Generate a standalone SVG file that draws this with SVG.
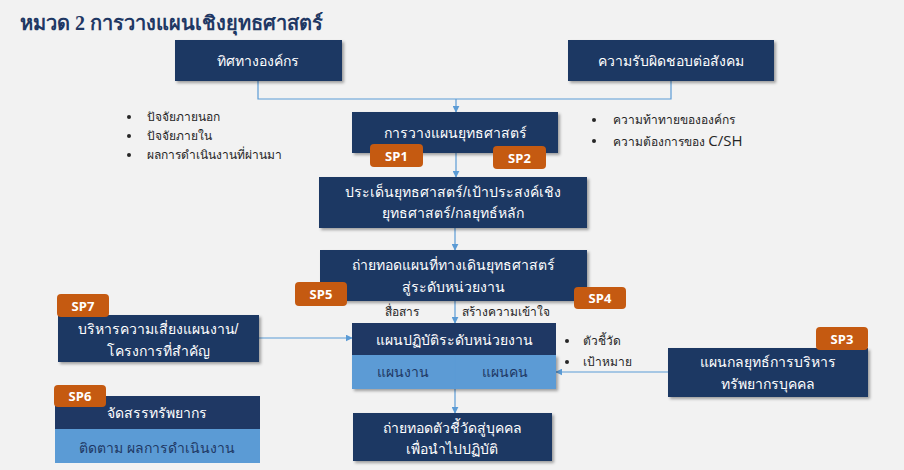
<svg xmlns="http://www.w3.org/2000/svg" width="904" height="470" viewBox="0 0 904 470">
<defs>
<filter id="sh" x="-10%" y="-10%" width="130%" height="140%">
<feDropShadow dx="2" dy="2" stdDeviation="1.5" flood-color="#000" flood-opacity="0.35"/>
</filter>
<marker id="ar" viewBox="0 0 10 10" refX="9" refY="5" markerWidth="7" markerHeight="7" orient="auto-start-reverse" markerUnits="userSpaceOnUse">
<path d="M0,0 L10,5 L0,10 z" fill="#5b9bd5"/>
</marker>
</defs>
<style>
.dk{fill:#1f3864}
.lt{fill:#5b9bd5}
.or{fill:#c55a11}
.wt{fill:#ffffff;font-family:"Liberation Sans","Noto Sans",sans-serif;font-size:14px;text-anchor:middle}
.bt{fill:#1f3864;font-family:"Liberation Sans","Noto Sans",sans-serif;font-size:14px;text-anchor:middle}
.sp{fill:#ffffff;font-family:"Open Sans","Liberation Sans",sans-serif;font-size:13px;font-weight:bold;text-anchor:middle}
.tx{fill:#262626;font-family:"Liberation Sans","Noto Sans",sans-serif;font-size:12px}
.ln{fill:none;stroke:#5b9bd5;stroke-width:1.2}
</style>
<rect width="904" height="470" fill="#f2f2f2"/>
<text x="20" y="30" fill="#1f3864" font-family="'Liberation Serif','Noto Serif',serif" font-size="20" font-weight="bold">หมวด 2 การวางแผนเชิงยุทธศาสตร์</text>

<g id="connectors">
<polyline class="ln" points="258,81 258,99 671,99 671,81"/>
<line class="ln" x1="456" y1="99" x2="456" y2="112" marker-end="url(#ar)"/>
<line class="ln" x1="456" y1="153" x2="456" y2="177" marker-end="url(#ar)"/>
<line class="ln" x1="455" y1="228" x2="455" y2="250" marker-end="url(#ar)"/>
<line class="ln" x1="455" y1="301" x2="455" y2="323" marker-end="url(#ar)"/>
<line class="ln" x1="455" y1="355" x2="455" y2="413" marker-end="url(#ar)"/>
<line class="ln" x1="259" y1="338" x2="352" y2="338" marker-end="url(#ar)"/>
<line class="ln" x1="668" y1="372" x2="556" y2="372" marker-end="url(#ar)"/>
</g>

<g id="n-direction">
<rect class="dk" x="175" y="40" width="167" height="41" filter="url(#sh)"/>
<text class="wt" x="258" y="66">ทิศทางองค์กร</text>
</g>
<g id="n-csr">
<rect class="dk" x="568" y="40" width="206" height="41" filter="url(#sh)"/>
<text class="wt" x="671" y="66">ความรับผิดชอบต่อสังคม</text>
</g>

<g id="n-left-bullets">
<circle cx="129" cy="117" r="2" fill="#262626"/>
<text class="tx" x="147" y="121">ปัจจัยภายนอก</text>
<circle cx="129" cy="136" r="2" fill="#262626"/>
<text class="tx" x="147" y="140">ปัจจัยภายใน</text>
<circle cx="129" cy="155" r="2" fill="#262626"/>
<text class="tx" x="147" y="159">ผลการดำเนินงานที่ผ่านมา</text>
</g>
<g id="n-right-bullets">
<circle cx="594" cy="120" r="2" fill="#262626"/>
<text class="tx" x="613" y="124">ความท้าทายขององค์กร</text>
<circle cx="594" cy="141" r="2" fill="#262626"/>
<text class="tx" x="613" y="146">ความต้องการของ <tspan font-family="'Open Sans','Liberation Sans',sans-serif" font-size="15">C/SH</tspan></text>
</g>

<g id="n-planning">
<rect class="dk" x="352" y="112" width="206" height="41" filter="url(#sh)"/>
<text class="wt" x="455" y="138">การวางแผนยุทธศาสตร์</text>
</g>
<g id="n-sp1">
<rect class="or" x="370" y="144" width="53" height="23" rx="4"/>
<text class="sp" x="396.5" y="161">SP1</text>
</g>
<g id="n-sp2">
<rect class="or" x="493" y="146" width="53" height="23" rx="4"/>
<text class="sp" x="519.5" y="163">SP2</text>
</g>

<g id="n-issues">
<rect class="dk" x="319" y="177" width="268" height="51" filter="url(#sh)"/>
<text class="wt" x="453" y="197">ประเด็นยุทธศาสตร์/เป้าประสงค์เชิง</text>
<text class="wt" x="453" y="218">ยุทธศาสตร์/กลยุทธ์หลัก</text>
</g>

<g id="n-cascade">
<rect class="dk" x="320" y="250" width="267" height="51" filter="url(#sh)"/>
<text class="wt" x="453" y="270">ถ่ายทอดแผนที่ทางเดินยุทธศาสตร์</text>
<text class="wt" x="453" y="292">สู่ระดับหน่วยงาน</text>
</g>
<g id="n-sp5">
<rect class="or" x="295" y="282" width="52" height="24" rx="4"/>
<text class="sp" x="321" y="299">SP5</text>
</g>
<g id="n-sp4">
<rect class="or" x="574" y="287" width="52" height="22" rx="4"/>
<text class="sp" x="600" y="303">SP4</text>
</g>
<text class="tx" x="385" y="316">สื่อสาร</text>
<text class="tx" x="462" y="316">สร้างความเข้าใจ</text>

<g id="n-unitplan">
<rect class="lt" x="352" y="355" width="204" height="34" filter="url(#sh)"/>
<rect class="dk" x="352" y="323" width="204" height="32"/>
<line x1="455" y1="355" x2="455" y2="389" stroke="#5b9bd5" stroke-width="1.2"/>
<text class="wt" x="454" y="345">แผนปฏิบัติระดับหน่วยงาน</text>
<text class="bt" x="403" y="377">แผนงาน</text>
<text class="bt" x="505" y="377">แผนคน</text>
</g>
<g id="n-kpi-bullets">
<circle cx="567" cy="341" r="2" fill="#262626"/>
<text class="tx" x="583" y="345">ตัวชี้วัด</text>
<circle cx="567" cy="362" r="2" fill="#262626"/>
<text class="tx" x="583" y="366">เป้าหมาย</text>
</g>

<g id="n-individual">
<rect class="dk" x="353" y="413" width="199" height="48" filter="url(#sh)"/>
<text class="wt" x="452" y="433">ถ่ายทอดตัวชี้วัดสู่บุคคล</text>
<text class="wt" x="452" y="454">เพื่อนำไปปฏิบัติ</text>
</g>

<g id="n-hr">
<rect class="dk" x="668" y="348" width="200" height="49" filter="url(#sh)"/>
<text class="wt" x="768" y="367">แผนกลยุทธ์การบริหาร</text>
<text class="wt" x="768" y="389">ทรัพยากรบุคคล</text>
</g>
<g id="n-sp3">
<rect class="or" x="816" y="327" width="52" height="23" rx="4"/>
<text class="sp" x="842" y="344">SP3</text>
</g>

<g id="n-risk">
<rect class="dk" x="58" y="315" width="201" height="47" filter="url(#sh)"/>
<text class="wt" x="158" y="334">บริหารความเสี่ยงแผนงาน/</text>
<text class="wt" x="158" y="356">โครงการที่สำคัญ</text>
</g>
<g id="n-sp7">
<rect class="or" x="57" y="294" width="52" height="23" rx="4"/>
<text class="sp" x="83" y="311">SP7</text>
</g>

<g id="n-resource">
<rect class="lt" x="55" y="429" width="205" height="34"/>
<rect class="dk" x="55" y="396" width="205" height="33"/>
<text class="wt" x="157" y="418">จัดสรรทรัพยากร</text>
<text class="bt" x="157" y="453">ติดตาม ผลการดำเนินงาน</text>
</g>
<g id="n-sp6">
<rect class="or" x="54" y="385" width="52" height="22" rx="4"/>
<text class="sp" x="80" y="401">SP6</text>
</g>
</svg>
